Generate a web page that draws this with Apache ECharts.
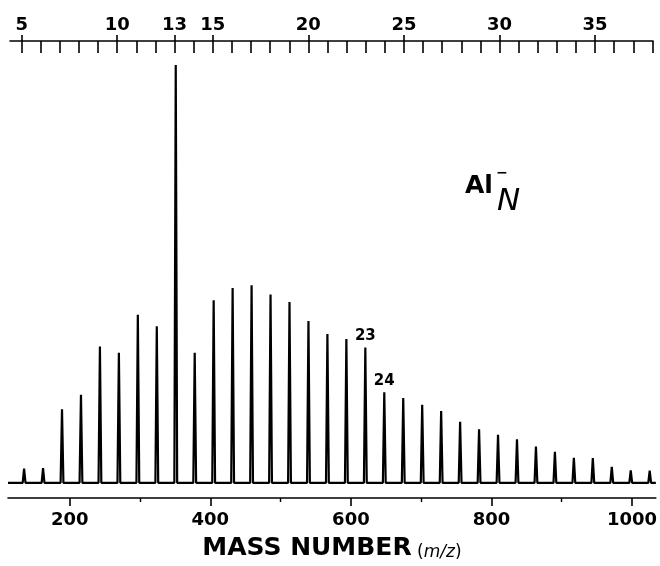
<!DOCTYPE html>
<html>
<head>
<meta charset="utf-8">
<script src="https://cdn.jsdelivr.net/npm/echarts@6/dist/echarts.min.js"></script>
<style>
  html, body { margin: 0; padding: 0; background: #fff; }
  #chart { width: 660px; height: 566px; }
</style>
</head>
<body>
<div id="chart"></div>
<script>
// ---- data ----
const AL_MASS = 26.98;                       // mass of one Al atom (u)
const clusterSizes = [5,6,7,8,9,10,11,12,13,14,15,16,17,18,19,20,21,22,23,24,25,26,27,28,29,30,31,32,33,34,35,36,37,38];
const intensities  = [3.4,3.5,17.6,21.1,32.6,31.1,40.2,37.5,100,31.1,43.7,46.6,47.3,45.1,43.3,38.7,35.6,34.4,32.4,21.7,20.3,18.7,17.2,14.6,12.8,11.5,10.4,8.7,7.4,6.0,5.9,3.8,3.0,2.9];
const massTicks      = [200, 400, 600, 800, 1000];
const massMinorTicks = [300, 500, 700, 900];
const topLabels      = [5, 10, 13, 15, 20, 25, 30, 35];
const labeledPeaks   = [23, 24];

// ---- build the spectrum trace (baseline + narrow peaks) ----
const X_MIN = 112, X_MAX = 1034;
const HALF_W = 2;
const trace = [[X_MIN, 0]];
clusterSizes.forEach((n, i) => {
  const m = n * AL_MASS;
  trace.push([m - HALF_W, 0], [m, intensities[i]], [m + HALF_W, 0]);
});
trace.push([X_MAX, 0]);

const labelPts = labeledPeaks.map(n => {
  const i = clusterSizes.indexOf(n);
  return [n * AL_MASS, intensities[i], n];
});

const INK = '#000';
const numFont = { color: INK, fontSize: 18, fontFamily: 'DejaVu Sans', fontWeight: 'bold', formatter: v => String(v) };

const chart = echarts.init(document.getElementById('chart'), null, { renderer: 'canvas' });
chart.setOption({
  animation: false,
  backgroundColor: '#fff',
  grid: [
    { left: 8, right: 2, top: 65, bottom: 64 },
    { left: 10, right: 7, top: 41, height: 10 }
  ],
  xAxis: [
    {
      gridIndex: 0, type: 'value', position: 'bottom', min: X_MIN, max: X_MAX,
      axisLine: { show: true, onZero: false, lineStyle: { color: INK, width: 1.6 } },
      axisTick: { show: true, customValues: massTicks, length: 8, lineStyle: { color: INK, width: 1.6 } },
      axisLabel: Object.assign({ customValues: massTicks, margin: 13 }, numFont),
      splitLine: { show: false },
      name: '{a|MASS NUMBER}{p| (}{i|m/z}{p|)}',
      nameLocation: 'middle', nameGap: 38,
      nameTextStyle: {
        rich: {
          a: { fontFamily: 'DejaVu Sans', fontWeight: 'bold', fontSize: 25, color: INK, verticalAlign: 'bottom' },
          p: { fontFamily: 'DejaVu Sans', fontSize: 17, color: INK, verticalAlign: 'bottom' },
          i: { fontFamily: 'DejaVu Sans', fontStyle: 'italic', fontSize: 17, color: INK, verticalAlign: 'bottom' }
        }
      }
    },
    {
      gridIndex: 0, type: 'value', position: 'bottom', min: X_MIN, max: X_MAX,
      axisLine: { show: false, onZero: false },
      axisTick: { show: true, customValues: massMinorTicks, length: 4, lineStyle: { color: INK, width: 1.4 } },
      axisLabel: { show: false },
      splitLine: { show: false }
    },
    {
      gridIndex: 1, type: 'value', position: 'top', min: 4.39, max: 38.03,
      axisLine: { show: true, onZero: false, lineStyle: { color: INK, width: 1.6 } },
      axisTick: { show: true, customValues: clusterSizes, inside: true, length: 12, lineStyle: { color: INK, width: 1.6 } },
      axisLabel: { show: false },
      splitLine: { show: false }
    },
    {
      gridIndex: 1, type: 'value', position: 'top', min: 4.39, max: 38.03,
      axisLine: { show: false, onZero: false },
      axisTick: { show: true, customValues: topLabels, inside: false, length: 6, lineStyle: { color: INK, width: 1.6 } },
      axisLabel: Object.assign({ customValues: topLabels, margin: 7 }, numFont),
      splitLine: { show: false }
    }
  ],
  yAxis: [
    { gridIndex: 0, type: 'value', min: -3.63, max: 100, show: false },
    { gridIndex: 1, type: 'value', min: 0, max: 1, show: false }
  ],
  series: [
    {
      type: 'line', xAxisIndex: 0, yAxisIndex: 0,
      data: trace, showSymbol: false, symbol: 'none',
      lineStyle: { color: INK, width: 2.2 },
      z: 3
    },
    {
      type: 'scatter', xAxisIndex: 0, yAxisIndex: 0,
      data: labelPts, symbolSize: 0,
      label: {
        show: true, position: 'top', distance: 4,
        formatter: p => String(p.value[2]),
        color: INK, opacity: 1, fontSize: 15, fontFamily: 'DejaVu Sans', fontWeight: 'bold'
      }
    }
  ],
  graphic: [
    { type: 'text', x: 465, y: 186, style: { text: 'Al', fill: INK, font: 'bold 25px "DejaVu Sans"', textAlign: 'left', textVerticalAlign: 'middle' } },
    { type: 'text', x: 502, y: 173, style: { text: '−', fill: INK, font: 'bold 14px "DejaVu Sans"', textAlign: 'center', textVerticalAlign: 'middle' } },
    { type: 'text', x: 497, y: 202, style: { text: 'N', fill: INK, font: 'italic 31px "DejaVu Sans"', textAlign: 'left', textVerticalAlign: 'middle' } }
  ]
});
</script>
</body>
</html>
